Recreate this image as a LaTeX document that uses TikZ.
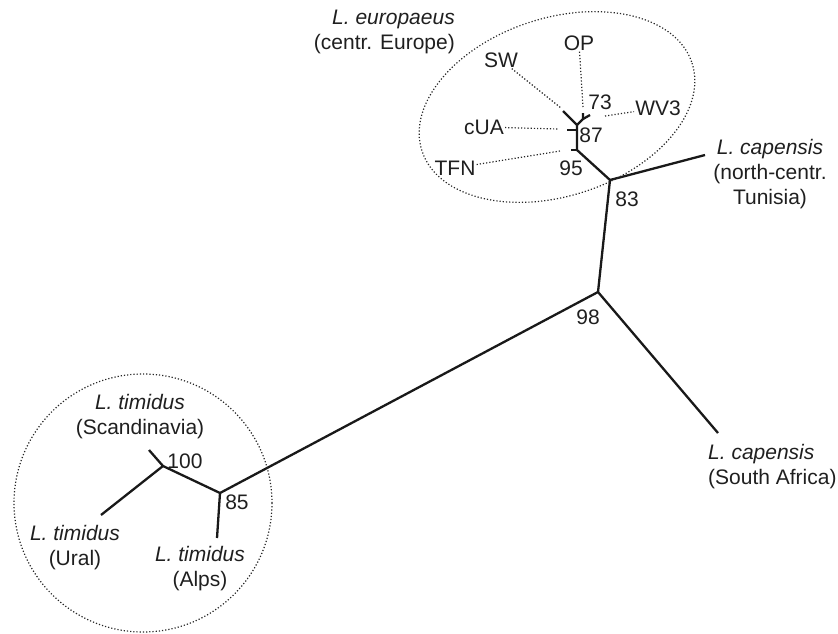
\documentclass[tikz,border=0pt]{standalone}
\usepackage{fontspec}
\setmainfont{Liberation Sans}
\begin{document}
\begin{tikzpicture}[x=1pt, y=-1pt, font=\fontsize{21}{25}\selectfont, line join=round,
		branch/.style={line width=2.3pt, black!90},
		dotline/.style={line width=1.2pt, dash pattern=on 1.2pt off 2pt, black!85},
		taxon/.style={align=center, inner sep=1pt, text=black!88},
		bval/.style={inner sep=1pt, text=black!88}]
			\useasboundingbox (0,0) rectangle (838,633);
			% Knoten des Baums
			\coordinate (n98) at (598,292);
			\coordinate (n83) at (610,180);
			\coordinate (n95) at (577,150);
			\coordinate (n87) at (577,130);
			\coordinate (nSW) at (577,125);
			\coordinate (n73) at (583,119);
			\coordinate (n85) at (220,493);
			\coordinate (n100) at (163,466);
			% Blaetter
			\coordinate (tun) at (705,155);
			\coordinate (saf) at (718,433);
			\coordinate (alp) at (217,538);
			\coordinate (ura) at (101,515);
			\coordinate (sca) at (149,450);
			\coordinate (tfn) at (571,150);
			\coordinate (cua) at (567,130);
			\coordinate (sw) at (563,111);
			\coordinate (op) at (583,113);
			\coordinate (wv) at (590,115);
			% Enden der punktierten Linien
			\coordinate (dSW) at (561,108);
			\coordinate (dOP) at (583,107);
			\coordinate (dWV) at (605,116);
			\coordinate (dcUA) at (558,129);
			\coordinate (dTFN) at (560,151);
			% Aeste
			\draw[branch] (tun)--(n83)--(n98)--(saf);
			\draw[branch] (n98)--(n85)--(alp);
			\draw[branch] (n85)--(n100)--(ura);
			\draw[branch] (n100)--(sca);
			\draw[branch] (n83)--(n95)--(n87)--(nSW)--(sw);
			\draw[branch] (n95)--(tfn);
			\draw[branch] (n87)--(cua);
			\draw[branch] (nSW)--(n73)--(op);
			\draw[branch] (n73)--(wv);
			% Gruppen
			\draw[dotline, rotate around={18:(557,107)}] (557,107) ellipse [x radius=142, y radius=89];
			\draw[dotline] (143,503) circle [radius=129];
			% Beschriftung
			\node[taxon, align=right, anchor=east] (lbEu) at (456,32) {\textit{L. europaeus}\\(centr. Europe)};
			\node[taxon] (lbSW) at (501,60) {SW};
			\node[taxon] (lbOP) at (579,43) {OP};
			\node[taxon] (lbWV) at (658,108) {WV3};
			\node[taxon] (lbcUA) at (484,127) {cUA};
			\node[taxon] (lbTFN) at (455,168) {TFN};
			\node[taxon] (lbTun) at (770,174) {\textit{L. capensis}\\(north-centr.\\Tunisia)};
			\node[taxon, align=left, anchor=west] (lbSAf) at (707,467) {\textit{L. capensis}\\(South Africa)};
			\node[taxon] (lbSca) at (140,417) {\textit{L. timidus}\\(Scandinavia)};
			\node[taxon] (lbUra) at (75,548) {\textit{L. timidus}\\(Ural)};
			\node[taxon] (lbAlp) at (200,569) {\textit{L. timidus}\\(Alps)};
			\draw[dotline] (lbSW)--(dSW);
			\draw[dotline] (lbOP)--(dOP);
			\draw[dotline] (dWV)--(lbWV);
			\draw[dotline] (lbcUA)--(dcUA);
			\draw[dotline] (lbTFN)--(dTFN);
			% Bootstrap-Werte
			\node[bval] (b73) at (600,102) {73};
			\node[bval] (b87) at (591,135) {87};
			\node[bval] (b95) at (571,168) {95};
			\node[bval] (b83) at (627,199) {83};
			\node[bval] (b98) at (588,317) {98};
			\node[bval] (b100) at (185,461) {100};
			\node[bval] (b85) at (237,502) {85};
		\end{tikzpicture}
\end{document}
